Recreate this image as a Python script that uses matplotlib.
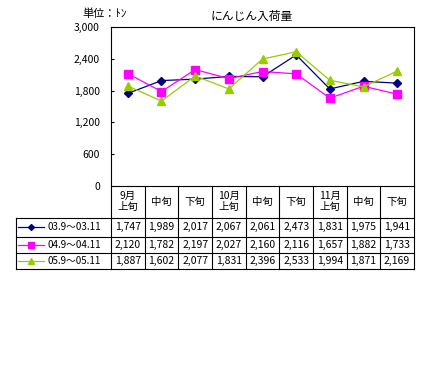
import matplotlib
matplotlib.use("Agg")
import matplotlib.pyplot as plt
from matplotlib.lines import Line2D

plt.rcParams['font.family'] = ['Noto Sans CJK JP', 'DejaVu Sans']

# ── Data ──────────────────────────────────────────────────────────────────────
categories = ["9月\n上旬", "中旬", "下旬", "10月\n上旬", "中旬", "下旬",
              "11月\n上旬", "中旬", "下旬"]
series_names = ["03.9～03.11", "04.9～04.11", "05.9～05.11"]
s03 = [1747, 1989, 2017, 2067, 2061, 2473, 1831, 1975, 1941]
s04 = [2120, 1782, 2197, 2027, 2160, 2116, 1657, 1882, 1733]
s05 = [1887, 1602, 2077, 1831, 2396, 2533, 1994, 1871, 2169]
yticks = [0, 600, 1200, 1800, 2400, 3000]

series = [s03, s04, s05]
colors = ["#000080", "#FF00FF", "#99CC00"]
markers = ["D", "s", "^"]
msizes = [4, 6, 6]

W, H = 429, 373
fig = plt.figure(figsize=(W / 100, H / 100), dpi=100)

# plot area in pixel coords
px_l, px_r, px_t, px_b = 111, 414, 27, 186
ax = fig.add_axes([px_l / W, 1 - px_b / H, (px_r - px_l) / W, (px_b - px_t) / H])
x = range(len(categories))
for vals, c, m, ms in zip(series, colors, markers, msizes):
    ax.plot(x, vals, color=c, marker=m, markersize=ms, linewidth=0.9,
            markeredgecolor=c)
ax.set_xlim(-0.5, len(categories) - 0.5)
ax.set_ylim(0, 3000)
ax.set_yticks(yticks)
ax.set_yticklabels([f"{v:,}" for v in yticks], fontsize=7.5)
ax.set_xticks([])
ax.tick_params(axis="y", direction="in", length=2, width=0.8, pad=8)
for sp in ax.spines.values():
    sp.set_linewidth(0.8)

fig.text(252 / W, 1 - 16 / H, "にんじん入荷量", ha="center", va="center", fontsize=8.5)
fig.text(82 / W, 1 - 14 / H, "単位：ﾄﾝ", ha="left", va="center", fontsize=8)

# ── Data table ────────────────────────────────────────────────────────────────
t_l, t_b = 16, 269
tax = fig.add_axes([t_l / W, 1 - t_b / H, (px_r - t_l) / W, (t_b - px_b) / H])
tax.set_xlim(t_l, px_r)
tax.set_ylim(t_b, px_b)
tax.axis("off")

ncol = len(categories)
cw = (px_r - px_l) / ncol
col_x = [px_l + k * cw for k in range(ncol + 1)]
row_y = [px_b, 217.5, 236.7, 253.3, 268.8]
lk = dict(color="black", linewidth=0.8, clip_on=False)

for cx in col_x:
    tax.plot([cx, cx], [row_y[0], row_y[-1]], **lk)
for ry in row_y[1:]:
    tax.plot([t_l, px_r], [ry, ry], **lk)
tax.plot([t_l, t_l], [row_y[1], row_y[-1]], **lk)

for k, lab in enumerate(categories):
    tax.text(col_x[k] + cw / 2, (row_y[0] + row_y[1]) / 2, lab,
             ha="center", va="center", fontsize=7.5, linespacing=1.1)

for r, (name, vals, c, m, ms) in enumerate(zip(series_names, series, colors, markers, msizes)):
    yc = (row_y[r + 1] + row_y[r + 2]) / 2
    tax.add_line(Line2D([18, 44], [yc, yc], color=c, linewidth=0.9))
    tax.plot([31], [yc], marker=m, color=c, markersize=ms - 1, markeredgecolor=c)
    tax.text(47, yc, name, ha="left", va="center", fontsize=7)
    for k, v in enumerate(vals):
        tax.text(col_x[k] + cw / 2, yc, f"{v:,}", ha="center", va="center", fontsize=7.5)

fig.savefig("out.png", dpi=100)
